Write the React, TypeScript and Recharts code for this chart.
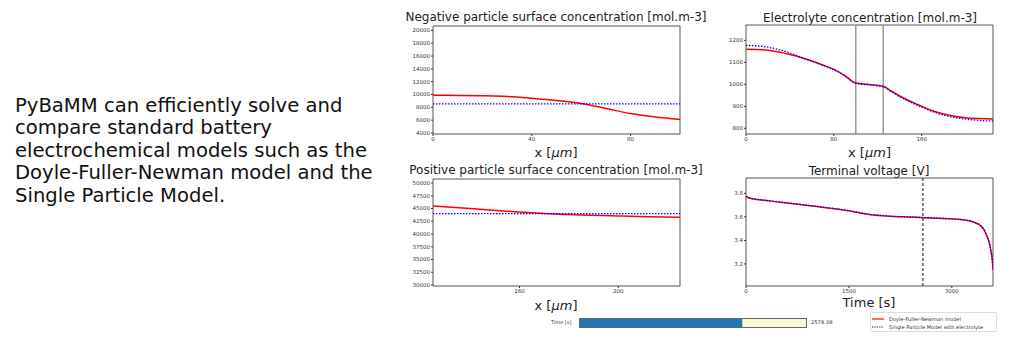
import React from 'react';
import { LineChart, Line, BarChart, Bar, XAxis, YAxis, ReferenceArea, ReferenceLine } from 'recharts';

// negative particle surface concentration
const negX = [0, 10, 20, 30, 40, 50, 60, 70, 80, 90, 100];
const negDfn = [9880, 9860, 9800, 9680, 9400, 9060, 8600, 7820, 7020, 6480, 6100];
const negSpmX = [0, 100];
const negSpm = [8530, 8530];
const negTicksY = [4000, 6000, 8000, 10000, 12000, 14000, 16000, 18000, 20000];
const negTicksX = [0, 40, 80];

// electrolyte concentration
const elecX = [0, 10, 20, 30, 40, 50, 60, 70, 80, 90, 100, 112.5, 125, 132, 140, 150, 160, 170, 180, 190, 200, 212, 225];
const elecDfn = [1160, 1159, 1155, 1147, 1136, 1122, 1106, 1088, 1068, 1040, 1006, 999, 991, 970, 947, 922, 900, 880, 865, 855, 848, 844, 842];
const elecSpm = [1177, 1175, 1169, 1158, 1143, 1124, 1106, 1087, 1067, 1039, 1004, 997, 989, 968, 944, 919, 896, 876, 860, 849, 842, 836, 833];
const elecTicksY = [800, 900, 1000, 1100, 1200];
const elecTicksX = [0, 80, 160];
const elecBounds = [100, 125];

// positive particle surface concentration
const posX = [125, 140, 155, 170, 185, 200, 212, 225];
const posDfn = [45500, 45000, 44450, 44000, 43720, 43520, 43380, 43280];
const posSpmX = [125, 225];
const posSpm = [44000, 44000];
const posTicksY = [30000, 32500, 35000, 37500, 40000, 42500, 45000, 47500, 50000];
const posTicksX = [160, 200];

// terminal voltage
const voltT = [0, 50, 200, 500, 1000, 1500, 1800, 2100, 2400, 2700, 3000, 3150, 3270, 3350, 3420, 3470, 3515, 3545, 3570, 3590, 3600];
const voltDfn = [3.772, 3.76, 3.745, 3.725, 3.69, 3.652, 3.62, 3.605, 3.598, 3.59, 3.582, 3.575, 3.565, 3.548, 3.525, 3.49, 3.43, 3.38, 3.31, 3.23, 3.15];
const voltSpm = [3.774, 3.761, 3.746, 3.726, 3.691, 3.653, 3.621, 3.606, 3.599, 3.591, 3.583, 3.576, 3.566, 3.55, 3.527, 3.492, 3.433, 3.383, 3.312, 3.233, 3.152];
const voltTicksY = [3.2, 3.4, 3.6, 3.8];
const voltTicksX = [0, 1500, 3000];

const currentTime = 2578.38;
const tMax = 3600;

const seriesNames = ['Doyle-Fuller-Newman model', 'Single Particle Model with electrolyte'];

const FONT = 'DejaVu Sans';
const RED = '#ff0000';
const BLUE = '#0000ff';
const FRAME = '#555';

const rows = (xs: number[], ys: number[]) => xs.map((x, i) => ({ x, y: ys[i] }));

const tickStyle = { fontSize: 5.5, fill: '#333', fontFamily: FONT };

interface PanelProps {
  plotLeft: number;
  plotTop: number;
  plotW: number;
  plotH: number;
  xDomain: number[];
  yDomain: number[];
  xTicks: number[];
  yTicks: number[];
  yFmt?: (v: number) => string;
  children?: React.ReactNode;
}

const Panel = ({ plotLeft, plotTop, plotW, plotH, xDomain, yDomain, xTicks, yTicks, yFmt, children }: PanelProps) => {
  const yw = 40;
  const xh = 12;
  return (
    <div style={{ position: 'absolute', left: plotLeft - yw, top: plotTop - 5 }}>
      <LineChart width={plotW + yw + 5} height={plotH + 5 + xh} margin={{ top: 5, right: 5, bottom: 0, left: 0 }}>
        <XAxis
          type="number"
          dataKey="x"
          domain={xDomain}
          ticks={xTicks}
          allowDataOverflow
          axisLine={false}
          tickSize={2}
          tickMargin={1}
          tick={tickStyle}
          stroke="#333"
          height={xh}
        />
        <YAxis
          type="number"
          domain={yDomain}
          ticks={yTicks}
          allowDataOverflow
          axisLine={false}
          tickSize={2}
          tickMargin={1}
          tick={tickStyle}
          stroke="#333"
          width={yw}
          tickFormatter={yFmt}
        />
        {children}
        <ReferenceArea
          x1={xDomain[0]}
          x2={xDomain[1]}
          y1={yDomain[0]}
          y2={yDomain[1]}
          fill="none"
          stroke={FRAME}
          strokeWidth={1}
        />
      </LineChart>
    </div>
  );
};

const Title = ({ cx, cy, size = 12, children }: { cx: number; cy: number; size?: number; children: React.ReactNode }) => (
  <div
    style={{
      position: 'absolute',
      left: cx,
      top: cy - size * 0.48,
      transform: 'translateX(-50%)',
      whiteSpace: 'nowrap',
      fontFamily: FONT,
      fontSize: size,
      lineHeight: 1,
      color: '#222',
    }}
  >
    {children}
  </div>
);

const XLabel = ({ cx, cy }: { cx: number; cy: number }) => (
  <Title cx={cx} cy={cy} size={13}>
    x [<span style={{ fontStyle: 'italic' }}>μm</span>]
  </Title>
);

export default function App() {
  const v1 = (v: number) => v.toFixed(1);
  return (
    <div style={{ position: 'absolute', left: 0, top: 0, width: 1024, height: 341, background: '#fff', overflow: 'hidden' }}>
      <div
        style={{
          position: 'absolute',
          left: 15,
          top: 95,
          fontFamily: FONT,
          fontSize: 19.6,
          lineHeight: '22.4px',
          color: '#111',
          whiteSpace: 'nowrap',
        }}
      >
        PyBaMM can efficiently solve and<br />
        compare standard battery<br />
        electrochemical models such as the<br />
        Doyle-Fuller-Newman model and the<br />
        Single Particle Model.
      </div>

      {/* negative particle */}
      <Title cx={556} cy={16.7}>Negative particle surface concentration [mol.m-3]</Title>
      <Panel plotLeft={433} plotTop={26} plotW={247} plotH={108} xDomain={[0, 100]} yDomain={[3840, 20680]} xTicks={negTicksX} yTicks={negTicksY}>
        <Line data={rows(negX, negDfn)} dataKey="y" type="monotone" stroke={RED} strokeWidth={1.5} dot={false} isAnimationActive={false} />
        <Line data={rows(negSpmX, negSpm)} dataKey="y" type="linear" stroke={BLUE} strokeWidth={1.3} strokeDasharray="1.5 1.5" dot={false} isAnimationActive={false} />
      </Panel>
      <XLabel cx={556} cy={152} />

      {/* electrolyte */}
      <Title cx={870} cy={17.5}>Electrolyte concentration [mol.m-3]</Title>
      <Panel plotLeft={746} plotTop={25} plotW={247} plotH={109} xDomain={[0, 225]} yDomain={[774, 1270]} xTicks={elecTicksX} yTicks={elecTicksY}>
        {elecBounds.map((b) => (
          <ReferenceLine key={b} x={b} stroke="#999" strokeWidth={1.5} />
        ))}
        <Line data={rows(elecX, elecDfn)} dataKey="y" type="monotone" stroke={RED} strokeWidth={1.5} dot={false} isAnimationActive={false} />
        <Line data={rows(elecX, elecSpm)} dataKey="y" type="monotone" stroke={BLUE} strokeWidth={1.3} strokeDasharray="1.5 1.5" dot={false} isAnimationActive={false} />
      </Panel>
      <XLabel cx={869.5} cy={152} />

      {/* positive particle */}
      <Title cx={556} cy={170}>Positive particle surface concentration [mol.m-3]</Title>
      <Panel plotLeft={433} plotTop={179} plotW={247} plotH={107} xDomain={[125, 225]} yDomain={[29800, 50780]} xTicks={posTicksX} yTicks={posTicksY}>
        <Line data={rows(posX, posDfn)} dataKey="y" type="monotone" stroke={RED} strokeWidth={1.5} dot={false} isAnimationActive={false} />
        <Line data={rows(posSpmX, posSpm)} dataKey="y" type="linear" stroke={BLUE} strokeWidth={1.3} strokeDasharray="1.5 1.5" dot={false} isAnimationActive={false} />
      </Panel>
      <XLabel cx={556} cy={305} />

      {/* terminal voltage */}
      <Title cx={869} cy={170.5}>Terminal voltage [V]</Title>
      <Panel plotLeft={746} plotTop={178} plotW={247} plotH={108} xDomain={[0, tMax]} yDomain={[3.013, 3.93]} xTicks={voltTicksX} yTicks={voltTicksY} yFmt={v1}>
        <Line data={rows(voltT, voltDfn)} dataKey="y" type="monotone" stroke={RED} strokeWidth={1.5} dot={false} isAnimationActive={false} />
        <Line data={rows(voltT, voltSpm)} dataKey="y" type="monotone" stroke={BLUE} strokeWidth={1.3} strokeDasharray="1.5 1.5" dot={false} isAnimationActive={false} />
        <ReferenceLine x={currentTime} stroke="#444" strokeWidth={1.3} strokeDasharray="3 2" />
      </Panel>
      <Title cx={869} cy={302.5} size={13}>Time [s]</Title>

      {/* time slider */}
      <div style={{ position: 'absolute', left: 551, top: 318.5, fontFamily: FONT, fontSize: 5, color: '#333' }}>Time [s]</div>
      <div style={{ position: 'absolute', left: 579, top: 318 }}>
        <BarChart width={228} height={10} layout="vertical" data={[{ name: 't', value: currentTime }]} margin={{ top: 0, right: 0, bottom: 0, left: 0 }}>
          <XAxis type="number" domain={[0, tMax]} hide />
          <YAxis type="category" dataKey="name" hide />
          <Bar dataKey="value" fill="#1f77b4" barSize={10} background={{ fill: '#fafad2' }} isAnimationActive={false} />
        </BarChart>
      </div>
      <div style={{ position: 'absolute', left: 579, top: 318, width: 226, height: 8, border: '1px solid #666' }} />
      <div style={{ position: 'absolute', left: 811, top: 318.5, fontFamily: FONT, fontSize: 5.2, color: '#333' }}>{currentTime.toFixed(2)}</div>

      {/* legend */}
      <div
        style={{
          position: 'absolute',
          left: 870,
          top: 312,
          width: 125,
          height: 18,
          border: '1px solid #ddd',
          borderRadius: 2,
          fontFamily: FONT,
          fontSize: 5.1,
          color: '#333',
        }}
      >
        {seriesNames.map((name, i) => (
          <div key={name} style={{ position: 'absolute', left: 1, top: 2 + i * 8.5, height: 7, display: 'flex', alignItems: 'center', whiteSpace: 'nowrap' }}>
            <svg width={12} height={6} style={{ marginRight: 5 }}>
              <line x1={0} y1={3} x2={12} y2={3} stroke={i === 0 ? RED : BLUE} strokeWidth={1.2} strokeDasharray={i === 0 ? undefined : '1.2 1.2'} />
            </svg>
            {name}
          </div>
        ))}
      </div>
    </div>
  );
}
